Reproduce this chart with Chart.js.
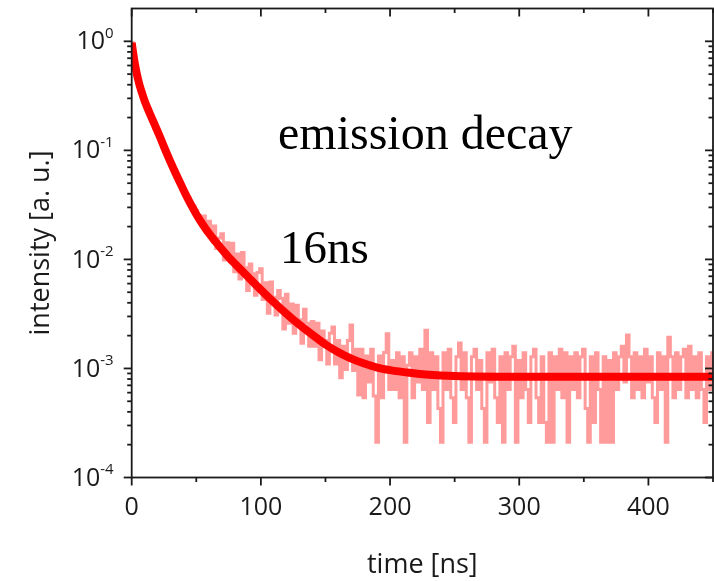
<!DOCTYPE html>
<html>
<head>
<meta charset="utf-8">
<script src="https://cdn.jsdelivr.net/npm/chart.js@4/dist/chart.umd.min.js"></script>
<style>
  html, body { margin: 0; padding: 0; background: #fff; }
  #wrap { width: 714px; height: 581px; }
</style>
</head>
<body>
<div id="wrap"><canvas id="decayChart" width="714" height="581"></canvas></div>
<script>
// measured trace: one value every 2 ns, from 0 to 450 ns
const binNs = 2;
const measured = [
  0.97, 0.67, 0.50, 0.40, 0.335, 0.285, 0.25, 0.218, 0.193, 0.17,
  0.151, 0.132, 0.116, 0.101, 0.089, 0.0785, 0.069, 0.0617, 0.055, 0.049,
  0.0437, 0.0389, 0.037, 0.0316, 0.031, 0.028, 0.025, 0.024,
  // 56 ns on
  0.025, 0.0177, 0.0224, 0.0168, 0.0203, 0.0126, 0.0157, 0.0172, 0.0099, 0.0142,
  0.0112, 0.0141, 0.0077, 0.0112, 0.0066, 0.0116, 0.0084, 0.0052, 0.0091, 0.0074,
  0.0047, 0.0076, 0.0082, 0.0043, 0.0061, 0.0032, 0.0062, 0.0045, 0.0031, 0.0052,
  0.0044, 0.0023, 0.0048, 0.0026, 0.0039, 0.0021, 0.0038, 0.0028, 0.0017, 0.0035,
  0.0026, 0.0016, 0.0027, 0.0016, 0.0026, 0.0012, 0.0022, 0.0018, 0.0011, 0.0021,
  0.0024, 0.0011, 0.0018, 0.00082, 0.0016, 0.00098, 0.0018, 0.0025, 0.00096, 0.0015,
  0.00057, 0.0015, 0.00054, 0.0013, 0.00075, 0.0015, 0.00056, 0.00021, 0.0013, 0.00054,
  0.0014, 0.00208, 0.00064,
  // 202 ns on
  0.00118, 0.00064, 0.00139, 0.00054, 0.00128, 0.00021, 0.00107, 0.00139, 0.00054, 0.00128,
  0.00075, 0.0015, 0.00064, 0.00224, 0.00032, 0.00139, 0.00064, 0.00128, 0.00043, 0.00021,
  0.00139, 0.00064, 0.0015, 0.00054, 0.00032, 0.00128, 0.00171, 0.00064, 0.00139, 0.00054,
  0.00021, 0.00128, 0.0015, 0.00064, 0.00118, 0.00043, 0.00021, 0.00139, 0.00075, 0.0015,
  0.00054, 0.00032, 0.00128, 0.00021, 0.00139, 0.00064, 0.00128, 0.0016, 0.00021, 0.00118,
  0.00054, 0.00139, 0.00064, 0.00032, 0.00128, 0.0015, 0.00054, 0.00032, 0.00128, 0.00032,
  0.00021, 0.00139, 0.00021, 0.00128, 0.00064, 0.0015, 0.00054, 0.00139, 0.00021, 0.00128,
  0.00064, 0.00139, 0.00054, 0.00128, 0.0015, 0.00043, 0.00021, 0.00128, 0.00032, 0.00139,
  0.00064, 0.00021, 0.00128, 0.00021, 0.00118, 0.00021, 0.00139, 0.00064, 0.00128, 0.0016,
  0.00075, 0.00203, 0.00128, 0.00054, 0.00139, 0.00064, 0.00128, 0.00054, 0.0015, 0.00075,
  0.00128, 0.00054, 0.00032, 0.00139, 0.00064, 0.00128, 0.00021, 0.00193, 0.00128, 0.00054,
  0.00139, 0.00064, 0.00128, 0.0015, 0.00054, 0.0016, 0.00064, 0.00128, 0.00054, 0.00139,
  0.00064, 0.00032, 0.00128, 0.00064, 0.00139
];

// fitted decay curve
const fitTime = [0, 1, 2, 3, 4, 5, 6, 8, 10, 14, 18, 22, 26, 30, 34, 38, 42, 46, 50, 55,
  60, 65, 70, 76, 85, 95, 107, 120, 130, 143, 150, 160, 170, 180, 190, 200, 215, 230, 250,
  300, 450];
const fitValue = [0.970, 0.80, 0.67, 0.575, 0.50, 0.445, 0.40, 0.335, 0.285, 0.218,
  0.170, 0.132, 0.101, 0.0785, 0.0617, 0.0490, 0.0389, 0.0316, 0.0260, 0.0209,
  0.0172, 0.0145, 0.0123, 0.0102, 0.00794, 0.00603, 0.00437, 0.00316, 0.00251, 0.00191,
  0.00166, 0.00141, 0.00123, 0.00111, 0.00102, 0.000966, 0.000912, 0.000875, 0.000851,
  0.000838, 0.000838];

// axis ticks
const xMajor = [0, 100, 200, 300, 400];
const xMinor = [50, 150, 250, 350, 450];
const yExponents = [-4, -3, -2, -1, 0];
const yMinorMult = [2, 3, 4, 5, 6, 7, 8, 9];

const ink = '#1a1a1a';
const sans = '"Open Sans", "Noto Sans", sans-serif';

// ticks, tick labels, box and texts drawn by hand (superscripts, mirrored ticks)
const frameAxes = {
  id: 'frameAxes',
  afterDraw(chart) {
    const c = chart.ctx;
    const a = chart.chartArea;
    const xs = chart.scales.x, ys = chart.scales.y;
    c.save();
    c.strokeStyle = ink;
    c.lineWidth = 1.8;
    c.strokeRect(a.left, a.top, a.right - a.left, a.bottom - a.top);

    function tick(x1, y1, x2, y2) {
      c.beginPath(); c.moveTo(x1, y1); c.lineTo(x2, y2); c.stroke();
    }
    xMajor.forEach(v => {
      const px = xs.getPixelForValue(v);
      tick(px, a.bottom, px, a.bottom + 8);
      tick(px, a.top, px, a.top + 8);
    });
    xMinor.forEach(v => {
      const px = xs.getPixelForValue(v);
      tick(px, a.bottom, px, a.bottom + 4.5);
      tick(px, a.top, px, a.top + 4.5);
    });
    yExponents.forEach(e => {
      const py = ys.getPixelForValue(Math.pow(10, e));
      tick(a.left - 8, py, a.left, py);
      tick(a.right - 8, py, a.right, py);
      if (e < 0) {
        yMinorMult.forEach(m => {
          const pm = ys.getPixelForValue(m * Math.pow(10, e));
          tick(a.left - 4.5, pm, a.left, pm);
          tick(a.right - 4.5, pm, a.right, pm);
        });
      }
    });

    c.fillStyle = ink;
    // x tick labels
    c.font = '25px ' + sans;
    c.textAlign = 'center';
    c.textBaseline = 'alphabetic';
    xMajor.forEach(v => c.fillText(String(v), xs.getPixelForValue(v), a.bottom + 37));

    // y tick labels 10^n
    yExponents.forEach(e => {
      const py = ys.getPixelForValue(Math.pow(10, e));
      const sup = e === 0 ? '0' : '-' + Math.abs(e);
      c.font = '15px ' + sans;
      const w2 = c.measureText(sup).width;
      c.font = '25px ' + sans;
      const w1 = c.measureText('10').width;
      const x0 = a.left - 18 - w2 - w1;
      c.textAlign = 'left';
      c.textBaseline = 'middle';
      c.fillText('10', x0, py + 1);
      c.font = '15px ' + sans;
      c.fillText(sup, x0 + w1, py - 8);
    });

    // axis titles
    c.font = '27px ' + sans;
    c.textAlign = 'center';
    c.textBaseline = 'alphabetic';
    c.fillText('time [ns]', (a.left + a.right) / 2, 573);
    c.save();
    c.translate(49, (a.top + a.bottom) / 2);
    c.rotate(-Math.PI / 2);
    c.fillText('intensity [a. u.]', 0, 0);
    c.restore();

    // annotations
    c.fillStyle = '#000';
    c.font = '48px "Liberation Serif", "DejaVu Serif", serif';
    c.textAlign = 'left';
    c.fillText('emission decay', 278, 149);
    c.font = '47px "Liberation Serif", "DejaVu Serif", serif';
    c.fillText('16ns', 280, 263);
    c.restore();
  }
};

const ctx = document.getElementById('decayChart').getContext('2d');
new Chart(ctx, {
  type: 'line',
  data: {
    datasets: [
      {
        label: 'fit',
        data: fitTime.map((t, i) => ({ x: t, y: fitValue[i] })),
        borderColor: '#ff0000',
        borderWidth: 8,
        pointRadius: 0,
        cubicInterpolationMode: 'monotone',
        order: 1
      },
      {
        label: 'data',
        data: measured.map((v, i) => ({ x: i * binNs, y: v })),
        borderColor: '#ff9b9b',
        borderWidth: 3,
        pointRadius: 0,
        stepped: 'middle',
        order: 2
      }
    ]
  },
  plugins: [frameAxes],
  options: {
    responsive: false,
    animation: false,
    devicePixelRatio: 1,
    layout: { padding: { top: 8.5, right: 1, left: 0, bottom: 0 } },
    plugins: { legend: { display: false }, tooltip: { enabled: false } },
    scales: {
      x: {
        type: 'linear', min: 0, max: 450,
        ticks: { display: false }, grid: { display: false }, border: { display: false },
        afterFit(s) { s.height = 103.5; }
      },
      y: {
        type: 'logarithmic', min: 1e-4, max: 2,
        ticks: { display: false }, grid: { display: false }, border: { display: false },
        afterFit(s) { s.width = 131.7; }
      }
    }
  }
});
</script>
</body>
</html>
